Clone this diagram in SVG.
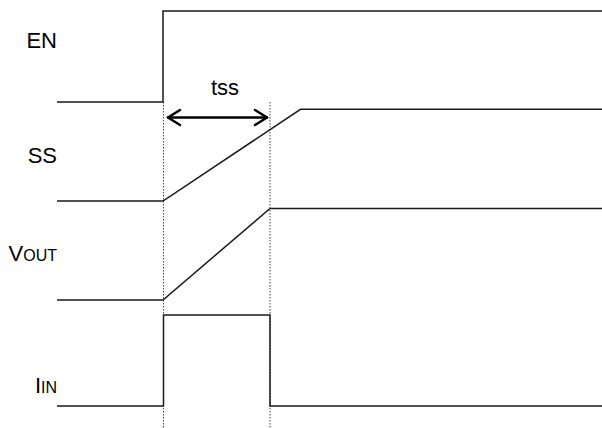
<svg xmlns="http://www.w3.org/2000/svg" width="602" height="428" viewBox="0 0 602 428">
<defs>
<style>
.sig{fill:none;stroke:#1a1a1a;stroke-width:1.5;stroke-linejoin:miter}
.guide{fill:none;stroke:#444;stroke-width:1;stroke-dasharray:1.5 1.5}
.lbl{font-family:"Liberation Sans",Arial,sans-serif;font-size:22px;fill:#000}
.sub{font-size:16px}
.arr{fill:none;stroke:#000;stroke-width:2.5;stroke-linecap:round;stroke-linejoin:round}
</style>
</defs>
<rect width="602" height="428" fill="#fff"/>
<g id="guides">
<line class="guide" x1="163.5" y1="102" x2="163.5" y2="428"/>
<line class="guide" x1="270" y1="102" x2="270" y2="428"/>
</g>
<g id="EN">
<text class="lbl" x="57" y="48" text-anchor="end">EN</text>
<polyline class="sig" points="57,102 163,102 163,11 602,11"/>
</g>
<g id="SS">
<text class="lbl" x="57" y="163" text-anchor="end">SS</text>
<polyline class="sig" points="57,201 163,201 300.5,109.3 602,109.3"/>
</g>
<g id="VOUT">
<text class="lbl" x="57" y="261" text-anchor="end">V<tspan class="sub">OUT</tspan></text>
<polyline class="sig" points="57,300 163,300 270,208.5 602,208.5"/>
</g>
<g id="IIN">
<text class="lbl" x="57" y="393" text-anchor="end">I<tspan class="sub">IN</tspan></text>
<polyline class="sig" points="57,406 163.5,406 163.5,315 270,315 270,406 602,406"/>
</g>
<g id="connectors">
<line class="arr" x1="168" y1="117.5" x2="267" y2="117.5"/>
<polyline class="arr" points="180,110 168,117.5 180,125"/>
<polyline class="arr" points="255,110 267,117.5 255,125"/>
<text class="lbl" x="225" y="95" text-anchor="middle">tss</text>
</g>
</svg>
